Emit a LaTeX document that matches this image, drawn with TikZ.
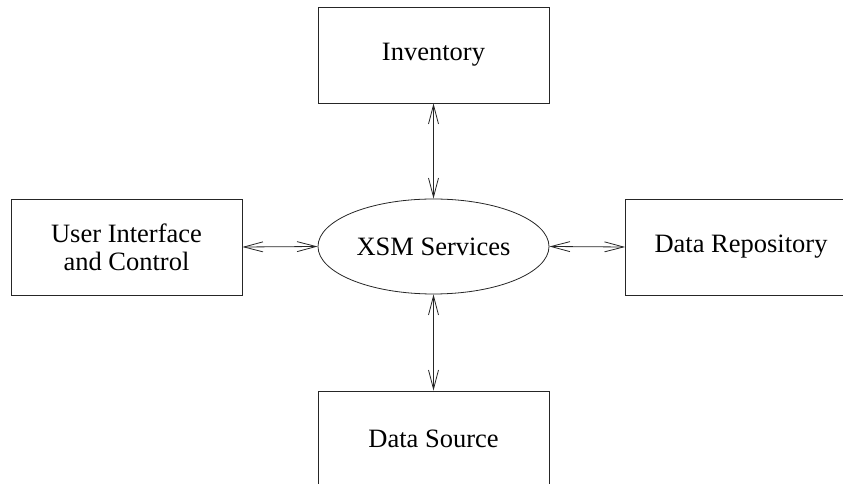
\documentclass[tikz,border=0pt]{standalone}
\usepackage{fontspec}
\setmainfont{Liberation Serif}
\usetikzlibrary{shapes.geometric,arrows.meta}
\begin{document}
\begin{tikzpicture}[x=1pt,y=1pt,
  box/.style={draw=black!85,line width=0.8pt,minimum width=231pt,minimum height=96pt,inner sep=0pt,
    font=\fontsize{26.5}{28}\selectfont,align=center},
  hub/.style={draw=black!85,line width=0.8pt,ellipse,minimum width=231pt,minimum height=95pt,inner sep=0pt,
    font=\fontsize{26.5}{28}\selectfont},
  link/.style={draw=black!85,line width=0.8pt,{Straight Barb[length=19pt,width=10pt]}-{Straight Barb[length=19pt,width=10pt]}}]
\useasboundingbox (0,0) rectangle (843,484);
\clip (0,0) rectangle (843,484);
\node[hub] (xsm) at (433.5,237.5) {XSM Services};
\node[box] (inv) at (433.5,429) {Inventory};
\node[box] (ui) at (126.5,237) {User Interface\\and Control};
\node[box] (repo) at (741,237) {Data Repository};
\node[box] (src) at (433.5,45) {Data Source};
\draw[link] (inv.south) -- (xsm.north);
\draw[link] (ui.east) -- (xsm.west);
\draw[link] (xsm.east) -- (repo.west);
\draw[link] (xsm.south) -- (src.north);
\end{tikzpicture}
\end{document}
